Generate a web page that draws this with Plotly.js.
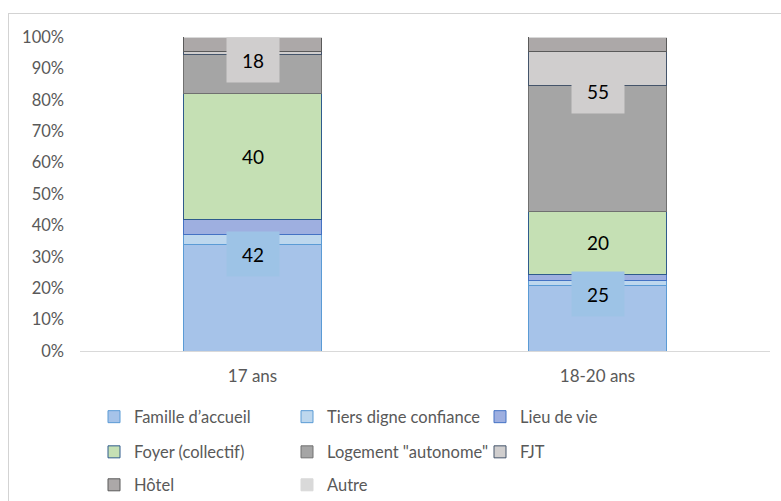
<!DOCTYPE html>
<html>
<head>
<meta charset="utf-8">
<script src="https://cdn.plot.ly/plotly-3.0.1.min.js"></script>
<style>
  html, body { margin: 0; padding: 0; background: #fff; }
  #wrap { position: relative; width: 781px; height: 501px; overflow: hidden; }
  #chart { width: 781px; height: 501px; }
  #frame { position: absolute; left: 8px; top: 13px; width: 900px; height: 700px;
           border-top: 1px solid #d3d3d3; border-left: 1px solid #d3d3d3; pointer-events: none; }
</style>
</head>
<body>
<div id="wrap"><div id="chart"></div><div id="frame"></div></div>
<script>
// Categories
const categories = ["17 ans", "18-20 ans"];

// Series values (percent of each age group)
const famille   = [34, 21];
const tiers     = [3, 1.5];
const lieu      = [5, 2];
const foyer     = [40, 20];
const logement  = [12.5, 40];
const fjt       = [1, 11];
const hotel     = [4.5, 4.5];
const autre     = [0, 0];

// Grouped totals shown as labels
const labelBottom = [42, 25];
const labelMiddle = [40, 20];
const labelTop    = [18, 55];

// Y tick labels
const yTickVals = [0, 10, 20, 30, 40, 50, 60, 70, 80, 90, 100];
const yTickText = ["0%", "10%", "20%", "30%", "40%", "50%", "60%", "70%", "80%", "90%", "100%"];

const seriesNames = ["Famille d\u2019accueil", "Tiers digne confiance", "Lieu de vie",
                     "Foyer (collectif)", "Logement \"autonome\"", "FJT", "H\u00f4tel", "Autre"];
const seriesData = [famille, tiers, lieu, foyer, logement, fjt, hotel, autre];
const fills = ["#a6c3e9", "#bdd7ee", "#9eafe0", "#c5e0b4", "#a5a5a5", "#d0cece", "#aca8a8", "#d9d9d9"];
const lines = ["#5b9bd5", "#5b9bd5", "#4472c4", "#2f5b8c", "#707070", "#44546a", "#5a5a5a", "#d9d9d9"];
const legendIds = ["legend", "legend", "legend", "legend2", "legend2", "legend2", "legend3", "legend3"];

const traces = seriesData.map((vals, i) => ({
  type: "bar",
  name: seriesNames[i],
  x: categories,
  y: vals,
  legend: legendIds[i],
  marker: { color: fills[i], line: { color: lines[i], width: 1 } },
  hoverinfo: "name+y"
}));

const sum = (arrs, j) => arrs.reduce((s, a) => s + a[j], 0);

const annotations = [];
categories.forEach((c, j) => {
  annotations.push({
    x: c, y: famille[j] - 3, xref: "x", yref: "y", text: String(labelBottom[j]),
    showarrow: false, bgcolor: "#9dc3e6", width: 50, height: 42,
    font: { family: "Lato, sans-serif", size: 19, color: "#000" }
  });
  annotations.push({
    x: c, y: sum([famille, tiers, lieu], j) + foyer[j] / 2, xref: "x", yref: "y",
    text: String(labelMiddle[j]), showarrow: false,
    font: { family: "Lato, sans-serif", size: 19, color: "#000" }
  });
  annotations.push({
    x: c, y: sum([famille, tiers, lieu, foyer, logement], j) - 1.8, xref: "x", yref: "y",
    text: String(labelTop[j]), showarrow: false, bgcolor: "#d0cece", width: 50, height: 42,
    font: { family: "Lato, sans-serif", size: 19, color: "#000" }
  });
});

const legFont = { family: "Lato, sans-serif", size: 16.5, color: "#595959" };
const legBase = { orientation: "h", xanchor: "left", yanchor: "middle", x: 0.0203,
                  entrywidth: 148, entrywidthmode: "pixels", traceorder: "normal",
                  font: legFont, bgcolor: "rgba(0,0,0,0)", itemclick: false, itemdoubleclick: false };

const layout = {
  width: 781, height: 501,
  margin: { l: 80, r: 11, t: 37, b: 150, autoexpand: false },
  paper_bgcolor: "#fff", plot_bgcolor: "#fff",
  barmode: "stack",
  bargap: 0.6,
  font: { family: "Lato, sans-serif", size: 17, color: "#595959" },
  xaxis: {
    type: "category", showline: true, linecolor: "#d9d9d9", linewidth: 1,
    showgrid: false, ticks: "", ticklabelstandoff: 10,
    tickfont: { family: "Lato, sans-serif", size: 17, color: "#595959" }
  },
  yaxis: {
    range: [0, 100], tickmode: "array", tickvals: yTickVals, ticktext: yTickText,
    showgrid: false, zeroline: false, showline: false, ticks: "", ticklabelstandoff: 15,
    tickfont: { family: "Lato, sans-serif", size: 16.5, color: "#595959" }
  },
  showlegend: true,
  legend:  Object.assign({}, legBase, { y: -0.210 }),
  legend2: Object.assign({}, legBase, { y: -0.322 }),
  legend3: Object.assign({}, legBase, { y: -0.427 }),
  annotations: annotations
};

Plotly.newPlot("chart", traces, layout, { displayModeBar: false, staticPlot: true });
</script>
</body>
</html>
